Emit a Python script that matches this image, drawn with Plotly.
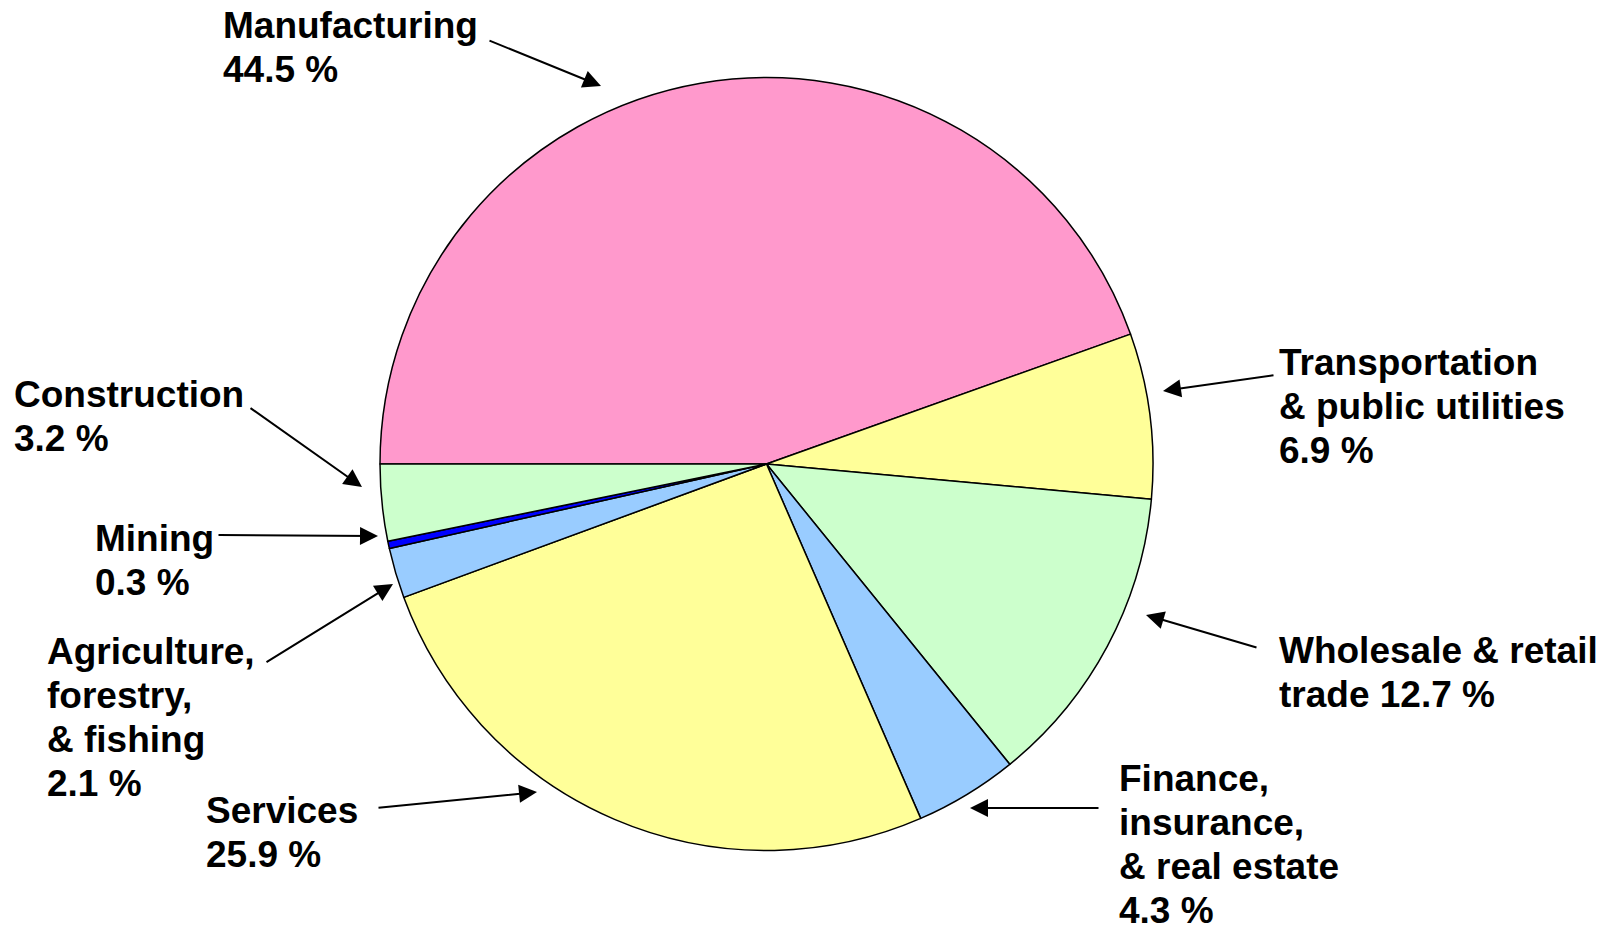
import plotly.graph_objects as go

W, H = 1612, 928

sectors = ['Manufacturing', 'Transportation & public utilities', 'Wholesale & retail trade',
           'Finance, insurance, & real estate', 'Services', 'Agriculture, forestry, & fishing',
           'Mining', 'Construction']
shares = [44.5, 6.9, 12.7, 4.3, 25.9, 2.1, 0.3, 3.2]
name_lines = [
    ['Manufacturing'],
    ['Transportation', '& public utilities'],
    ['Wholesale & retail'],
    ['Finance,', 'insurance,', '& real estate'],
    ['Services'],
    ['Agriculture,', 'forestry,', '& fishing'],
    ['Mining'],
    ['Construction'],
]
colors = ['#FF99CC', '#FFFF99', '#CCFFCC', '#99CCFF', '#FFFF99', '#99CCFF', '#0000FF', '#CCFFCC']

# label placement (page pixels): text left, first line middle, arrow tail, arrow head
label_pos = {
    'Manufacturing': (222, 25, (488, 40), (601, 86)),
    'Transportation & public utilities': (1278, 362, (1275, 375), (1163, 391)),
    'Wholesale & retail trade': (1278, 650, (1258, 648), (1146, 615)),
    'Finance, insurance, & real estate': (1118, 778, (1100, 808), (970, 808)),
    'Services': (205, 810, (377, 808), (537, 792)),
    'Agriculture, forestry, & fishing': (46, 651, (265, 663), (393, 584)),
    'Mining': (94, 538, (217, 535), (378, 536)),
    'Construction': (13, 394, (249, 407), (362, 487)),
}
LINE_GAP = 44
FONT = dict(family='Arial, Liberation Sans, sans-serif', size=37, color='black', weight='bold')

cx, cy, r = 766.5, 464, 386.5

fig = go.Figure()
fig.add_trace(go.Pie(
    labels=sectors, values=shares, sort=False, direction='clockwise', rotation=270,
    marker=dict(colors=colors, line=dict(color='black', width=1.5)),
    textinfo='none', hoverinfo='skip', showlegend=False,
    domain=dict(x=[(cx - r) / W, (cx + r) / W], y=[(H - cy - r) / H, (H - cy + r) / H]),
))

annotations = []
for name, val, lines in zip(sectors, shares, name_lines):
    x0, y0, tail, head = label_pos[name]
    if name == 'Wholesale & retail trade':
        text_lines = lines + [f'trade {val} %']
    else:
        text_lines = lines + [f'{val} %']
    for i, t in enumerate(text_lines):
        annotations.append(dict(
            x=x0, y=y0 + i * LINE_GAP, xref='x', yref='y', text=t, showarrow=False,
            xanchor='left', yanchor='middle', font=FONT, borderpad=0,
        ))
    annotations.append(dict(
        x=head[0], y=head[1], ax=tail[0], ay=tail[1],
        xref='x', yref='y', axref='x', ayref='y',
        text='', showarrow=True, arrowhead=2, arrowsize=1.8, arrowwidth=2, arrowcolor='black',
    ))

fig.update_layout(
    width=W, height=H, margin=dict(l=0, r=0, t=0, b=0),
    paper_bgcolor='white', plot_bgcolor='rgba(0,0,0,0)',
    xaxis=dict(range=[0, W], visible=False, fixedrange=True),
    yaxis=dict(range=[H, 0], visible=False, fixedrange=True),
    annotations=annotations,
)
fig.write_html("out.html", config={'displayModeBar': False},
               post_script="document.body.style.margin = '0';")
